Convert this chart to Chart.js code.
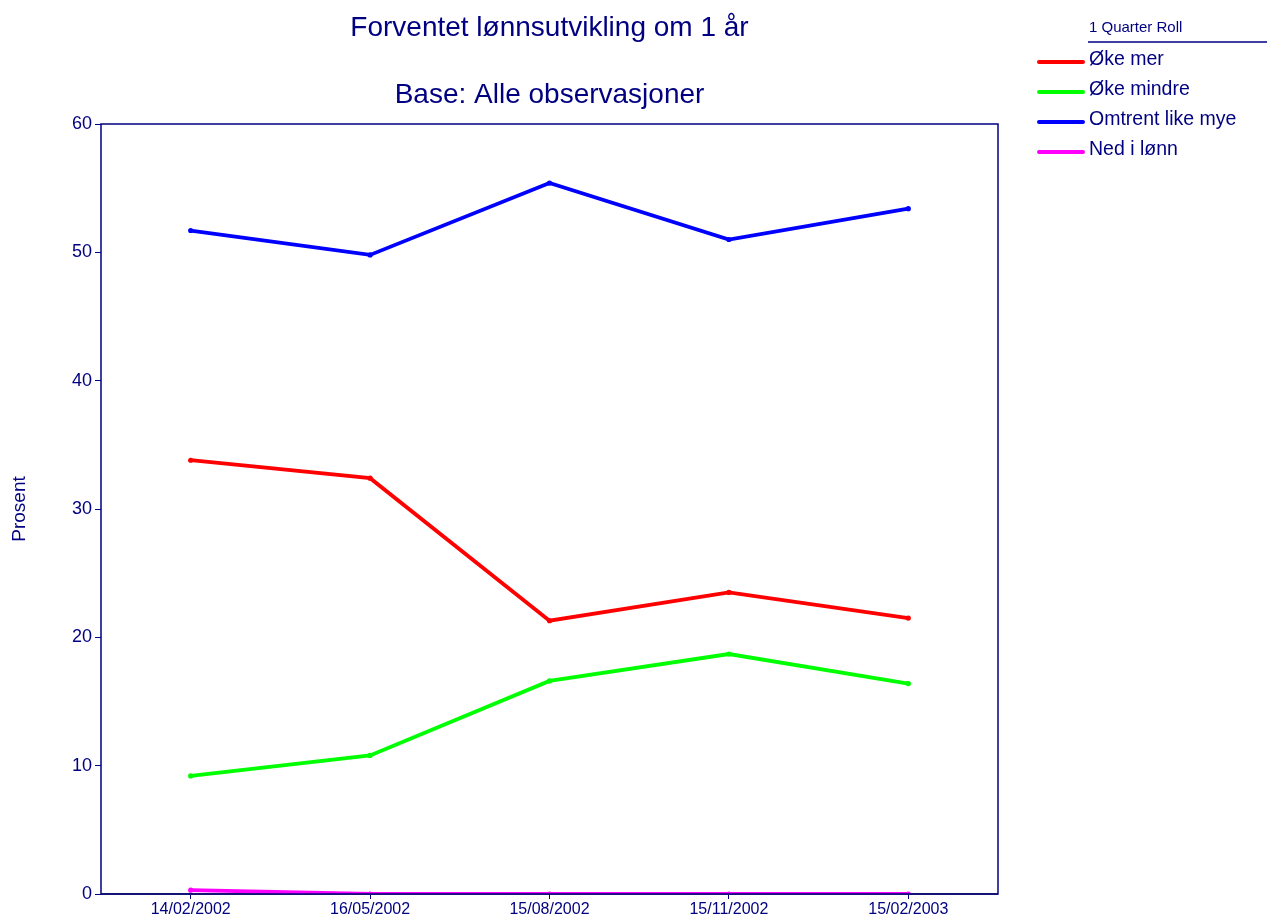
<!DOCTYPE html>
<html>
<head>
<meta charset="utf-8">
<script src="https://cdn.jsdelivr.net/npm/chart.js@4.4.1/dist/chart.umd.min.js"></script>
<style>
  html, body { margin: 0; padding: 0; background: #ffffff; }
  #wrap { width: 1267px; height: 918px; position: relative; }
</style>
</head>
<body>
<div id="wrap"><canvas id="lonnChart" width="1267" height="918"></canvas></div>
<script>
// Data
const dates = ['14/02/2002', '16/05/2002', '15/08/2002', '15/11/2002', '15/02/2003'];
const okeMer = [33.8, 32.4, 21.3, 23.5, 21.5];
const okeMindre = [9.2, 10.8, 16.6, 18.7, 16.4];
const omtrentLike = [51.7, 49.8, 55.4, 51.0, 53.4];
const nedILonn = [0.3, 0, 0, 0, 0];
const yTicks = [0, 10, 20, 30, 40, 50, 60];

const titleLines = ['Forventet lønnsutvikling om 1 år', 'Base: Alle observasjoner'];
const legendTitle = '1 Quarter Roll';

const NAVY = '#000080';
const FONT = '"Liberation Sans", Arial, sans-serif';

function createDataset(label, data, color) {
    return {
        label: label,
        data: data,
        borderColor: color,
        backgroundColor: color,
        borderWidth: 3.8,
        tension: 0,
        pointRadius: 2.6,
        pointBackgroundColor: color,
        pointBorderWidth: 0,
        fill: false
    };
}

const series = [
    createDataset('Øke mer', okeMer, '#ff0000'),
    createDataset('Øke mindre', okeMindre, '#00ff00'),
    createDataset('Omtrent like mye', omtrentLike, '#0000ff'),
    createDataset('Ned i lønn', nedILonn, '#ff00ff')
];

// Frame, titles and legend drawn on the canvas
const decorPlugin = {
    id: 'decor',
    beforeDatasetsDraw(chart) {
        const { ctx, chartArea: a, scales } = chart;
        ctx.save();
        // zero line
        const y0 = scales.y.getPixelForValue(0);
        ctx.strokeStyle = '#505060';
        ctx.lineWidth = 2;
        ctx.beginPath();
        ctx.moveTo(a.left, y0);
        ctx.lineTo(a.right, y0);
        ctx.stroke();
        ctx.restore();
    },
    afterDraw(chart) {
        const { ctx, chartArea: a } = chart;
        ctx.save();
        // box
        ctx.strokeStyle = NAVY;
        ctx.lineWidth = 1.5;
        ctx.strokeRect(a.left, a.top, a.right - a.left, a.bottom - a.top);

        // titles
        const cx = (a.left + a.right) / 2;
        ctx.fillStyle = NAVY;
        ctx.font = '28px ' + FONT;
        ctx.textAlign = 'center';
        ctx.textBaseline = 'middle';
        ctx.fillText(titleLines[0], cx, 28);
        ctx.fillText(titleLines[1], cx, 95);

        // legend
        ctx.textAlign = 'left';
        ctx.font = '15px ' + FONT;
        ctx.fillText(legendTitle, 1089, 28);
        ctx.strokeStyle = NAVY;
        ctx.lineWidth = 1.5;
        ctx.beginPath();
        ctx.moveTo(1088, 42);
        ctx.lineTo(1267, 42);
        ctx.stroke();

        ctx.font = '19.5px ' + FONT;
        chart.data.datasets.forEach((ds, i) => {
            const y = 60 + i * 30;
            ctx.strokeStyle = ds.borderColor;
            ctx.lineWidth = 4;
            ctx.lineCap = 'round';
            ctx.beginPath();
            ctx.moveTo(1039, y + 2);
            ctx.lineTo(1083, y + 2);
            ctx.stroke();
            ctx.fillStyle = NAVY;
            ctx.fillText(ds.label, 1089, y);
        });
        ctx.restore();
    }
};

new Chart(document.getElementById('lonnChart').getContext('2d'), {
    type: 'line',
    data: { labels: dates, datasets: series },
    plugins: [decorPlugin],
    options: {
        responsive: false,
        animation: false,
        layout: { padding: { top: 124, right: 269, left: 0, bottom: 0 } },
        plugins: {
            legend: { display: false },
            title: { display: false },
            tooltip: { enabled: false }
        },
        scales: {
            x: {
                offset: true,
                grid: { display: true, drawOnChartArea: false, drawTicks: true, tickLength: 5, offset: false, color: NAVY },
                border: { display: false },
                ticks: { color: NAVY, font: { family: FONT, size: 16 }, padding: 1, maxRotation: 0 },
                afterFit(scale) { scale.height = 24; }
            },
            y: {
                min: 0,
                max: 60,
                afterBuildTicks(scale) { scale.ticks = yTicks.map(v => ({ value: v })); },
                grid: { display: true, drawOnChartArea: false, drawTicks: true, tickLength: 6, color: NAVY },
                border: { display: false },
                ticks: { color: NAVY, font: { family: FONT, size: 18 }, padding: 3 },
                title: { display: true, text: 'Prosent', color: NAVY, font: { family: FONT, size: 19 }, padding: { top: 8, bottom: 20 } },
                afterFit(scale) { scale.width = 101; }
            }
        }
    }
});
</script>
</body>
</html>
